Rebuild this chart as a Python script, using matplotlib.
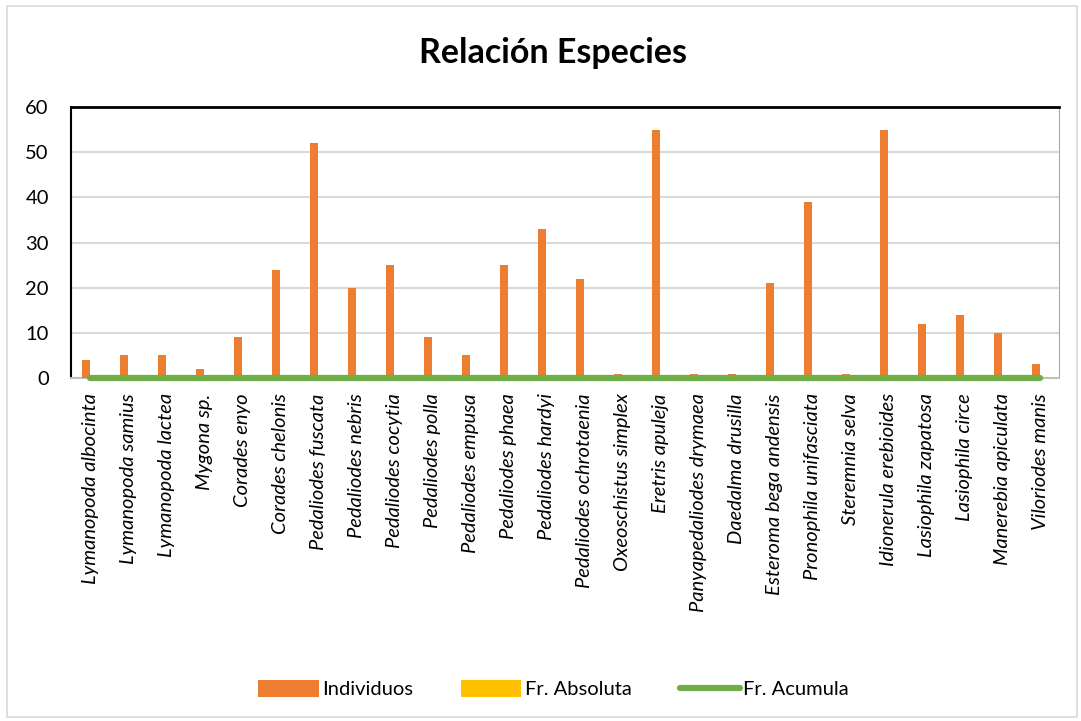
import numpy as np
import matplotlib.pyplot as plt
from matplotlib.patches import Rectangle

plt.rcParams['font.family'] = ['Lato', 'DejaVu Sans']

especies = ['Lymanopoda albocinta', 'Lymanopoda samius', 'Lymanopoda lactea', 'Mygona sp.',
            'Corades enyo', 'Corades chelonis', 'Pedaliodes fuscata', 'Pedaliodes nebris',
            'Pedaliodes cocytia', 'Pedaliodes polla', 'Pedaliodes empusa', 'Pedaliodes phaea',
            'Pedaliodes hardyi', 'Pedaliodes ochrotaenia', 'Oxeoschistus simplex', 'Eretris apuleja',
            'Panyapedaliodes drymaea', 'Daedalma drusilla', 'Esteroma bega andensis',
            'Pronophila unifasciata', 'Steremnia selva', 'Idionerula erebioides',
            'Lasiophila zapatosa', 'Lasiophila circe', 'Manerebia apiculata', 'Viloriodes manis']
individuos = [4, 5, 5, 2, 9, 24, 52, 20, 25, 9, 5, 25, 33, 22, 1, 55, 1, 1, 21, 39, 1, 55, 12, 14, 10, 3]
# Fr. Absoluta and Fr. Acumula sit on the zero line at this scale
fr_absoluta = [0.009, 0.011, 0.011, 0.004, 0.020, 0.053, 0.115, 0.044, 0.055, 0.020, 0.011, 0.055, 0.073,
               0.049, 0.002, 0.121, 0.002, 0.002, 0.046, 0.086, 0.002, 0.121, 0.026, 0.031, 0.022, 0.007]
fr_acumula = [0.0] * 26

x = np.arange(len(especies))
w = 0.22

fig = plt.figure(figsize=(10.81, 7.21), dpi=100)
ax = fig.add_axes([0.0657, 0.4757, 0.9143, 0.3759])

b1 = ax.bar(x - w / 2, individuos, width=w, color='#ED7D31', label='Individuos', zorder=3)
b2 = ax.bar(x + w / 2, fr_absoluta, width=w, color='#FFC000', label='Fr. Absoluta', zorder=3)
l1, = ax.plot(x, fr_acumula, color='#70AD47', lw=4.5, label='Fr. Acumula', zorder=4,
              solid_capstyle='round', clip_on=False)

ax.set_xlim(-0.5, len(especies) - 0.5)
ax.set_ylim(0, 60)
ax.set_yticks(range(0, 61, 10))
ax.yaxis.grid(True, color='#D9D9D9', lw=1.5, zorder=0)
ax.set_axisbelow(True)
ax.set_xticks(x)
ax.set_xticklabels(especies, rotation=90, fontstyle='italic', fontsize=14.5)
ax.tick_params(axis='y', labelsize=14.5, length=0, pad=16)
ax.tick_params(axis='x', length=0, pad=11)

ax.spines['left'].set_color('black')
ax.spines['left'].set_linewidth(1.5)
ax.spines['top'].set_color('black')
ax.spines['top'].set_linewidth(2)
ax.spines['right'].set_color('#A6A6A6')
ax.spines['bottom'].set_color('#BFBFBF')
ax.spines['bottom'].set_linewidth(1.5)

fig.text(0.512, 0.926, 'Relación Especies', ha='center', va='center', fontsize=24.5, fontweight='bold')

fig.legend([b1, b2, l1], ['Individuos', 'Fr. Absoluta', 'Fr. Acumula'], loc='center',
           bbox_to_anchor=(0.512, 0.044), ncol=3, frameon=False, fontsize=14.5,
           handlelength=3.0, handleheight=0.9, columnspacing=2.4, handletextpad=0.15)

fig.patches.append(Rectangle((0.0065, 0.006), 0.990, 0.985, transform=fig.transFigure,
                             fill=False, edgecolor='#D9D9D9', lw=1.2))

fig.savefig('out.png', dpi=100)
